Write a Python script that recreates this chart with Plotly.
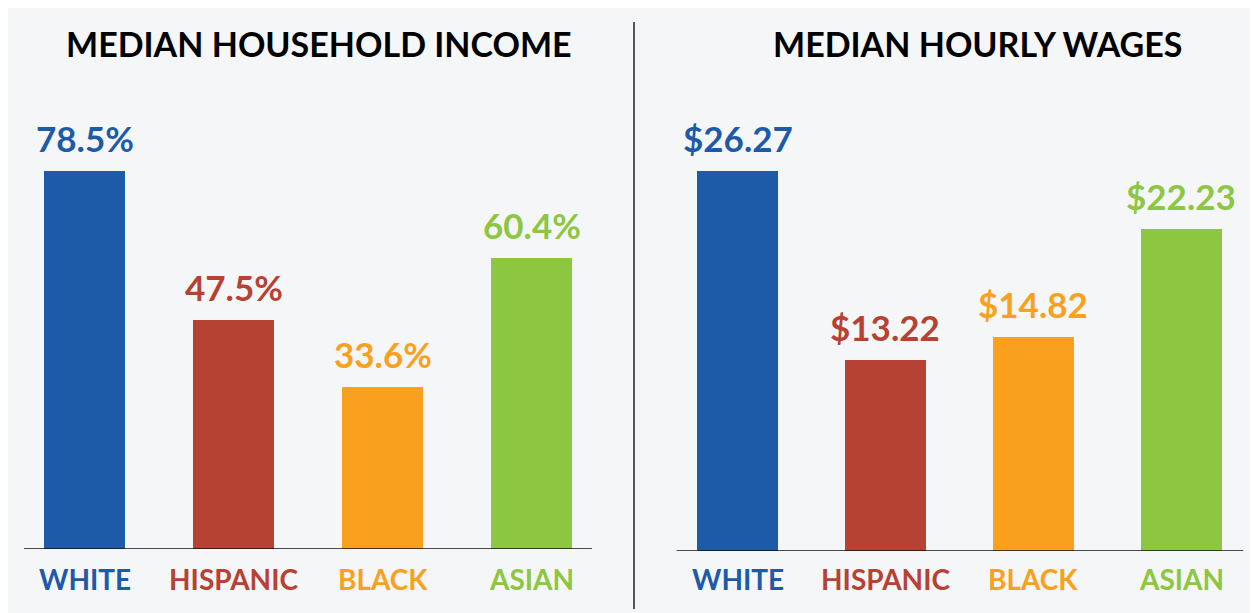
import plotly.graph_objects as go

# page places the figure at an 8px offset; use reference pixel coords minus OFF
OFF = 8
W, H = 1258 - OFF, 613 - OFF

categories = ["WHITE", "HISPANIC", "BLACK", "ASIAN"]
colors = ["#1D5AA8", "#B54233", "#F9A11E", "#8DC641"]
income_pct = [78.5, 47.5, 33.6, 60.4]
income_labels = ["78.5%", "47.5%", "33.6%", "60.4%"]
wages = [26.27, 13.22, 14.82, 22.23]
wage_labels = ["$26.27", "$13.22", "$14.82", "$22.23"]
titles = ["MEDIAN HOUSEHOLD INCOME", "MEDIAN HOURLY WAGES"]

FONT = "Lato"
BG = "#F5F6F8"

def px_x(p):
    return (p - OFF) / W

def px_y(p):  # p measured from top of reference image
    return 1 - (p - OFF) / H

fig = go.Figure()

fig.add_trace(go.Bar(x=categories, y=income_pct, marker=dict(color=colors, line=dict(width=0)),
                     width=0.545, xaxis="x", yaxis="y", hoverinfo="skip"))
fig.add_trace(go.Bar(x=categories, y=wages, marker=dict(color=colors, line=dict(width=0)),
                     width=0.548, xaxis="x2", yaxis="y2", hoverinfo="skip"))

annotations = []
for i, c in enumerate(categories):
    annotations.append(dict(x=c, y=income_pct[i], xref="x", yref="y", text=f"<b>{income_labels[i]}</b>",
                            showarrow=False, yanchor="bottom", yshift=10,
                            font=dict(family=FONT, size=35, color=colors[i])))
    annotations.append(dict(x=c, y=wages[i], xref="x2", yref="y2", text=f"<b>{wage_labels[i]}</b>",
                            showarrow=False, yanchor="bottom", yshift=10,
                            font=dict(family=FONT, size=35, color=colors[i])))
    annotations.append(dict(x=c, y=0, xref="x", yref="y", text=f"<b>{c}</b>",
                            showarrow=False, yanchor="middle", yshift=-30,
                            font=dict(family=FONT, size=28, color=colors[i])))
    annotations.append(dict(x=c, y=0, xref="x2", yref="y2", text=f"<b>{c}</b>",
                            showarrow=False, yanchor="middle", yshift=-28,
                            font=dict(family=FONT, size=28, color=colors[i])))

annotations.append(dict(x=px_x(319), y=px_y(43), xref="paper", yref="paper", text=f"<b>{titles[0]}</b>",
                        showarrow=False, xanchor="center", yanchor="middle",
                        font=dict(family=FONT, size=34, color="#000000")))
annotations.append(dict(x=px_x(977), y=px_y(43), xref="paper", yref="paper", text=f"<b>{titles[1]}</b>",
                        showarrow=False, xanchor="center", yanchor="middle",
                        font=dict(family=FONT, size=34, color="#000000")))

shapes = [
    dict(type="line", xref="paper", yref="paper", x0=px_x(634), x1=px_x(634), y0=px_y(609), y1=px_y(22),
         line=dict(color="#222222", width=1.5)),
    dict(type="line", xref="x", yref="y", x0=-0.406, x1=3.406, y0=0, y1=0,
         line=dict(color="#111111", width=1.5)),
    dict(type="line", xref="x2", yref="y2", x0=-0.412, x1=3.419, y0=0, y1=0,
         line=dict(color="#111111", width=1.5)),
]

axis_common = dict(showgrid=False, zeroline=False, showline=False, showticklabels=False, ticks="", fixedrange=True)

fig.update_layout(
    width=W, height=H,
    margin=dict(l=0, r=0, t=0, b=0),
    paper_bgcolor=BG, plot_bgcolor="rgba(0,0,0,0)",
    showlegend=False, bargap=0,
    xaxis=dict(domain=[px_x(10), px_x(606)], range=[-0.5, 3.5], type="category", **axis_common),
    yaxis=dict(domain=[px_y(549), px_y(100)], range=[0, 449 / 4.815], **axis_common),
    xaxis2=dict(domain=[px_x(663.6), px_x(1255.2)], range=[-0.5, 3.5], type="category", anchor="y2", **axis_common),
    yaxis2=dict(domain=[px_y(551), px_y(100)], range=[0, 451 / 14.465], anchor="x2", **axis_common),
    annotations=annotations,
    shapes=shapes,
)

fig.write_html("out.html")
